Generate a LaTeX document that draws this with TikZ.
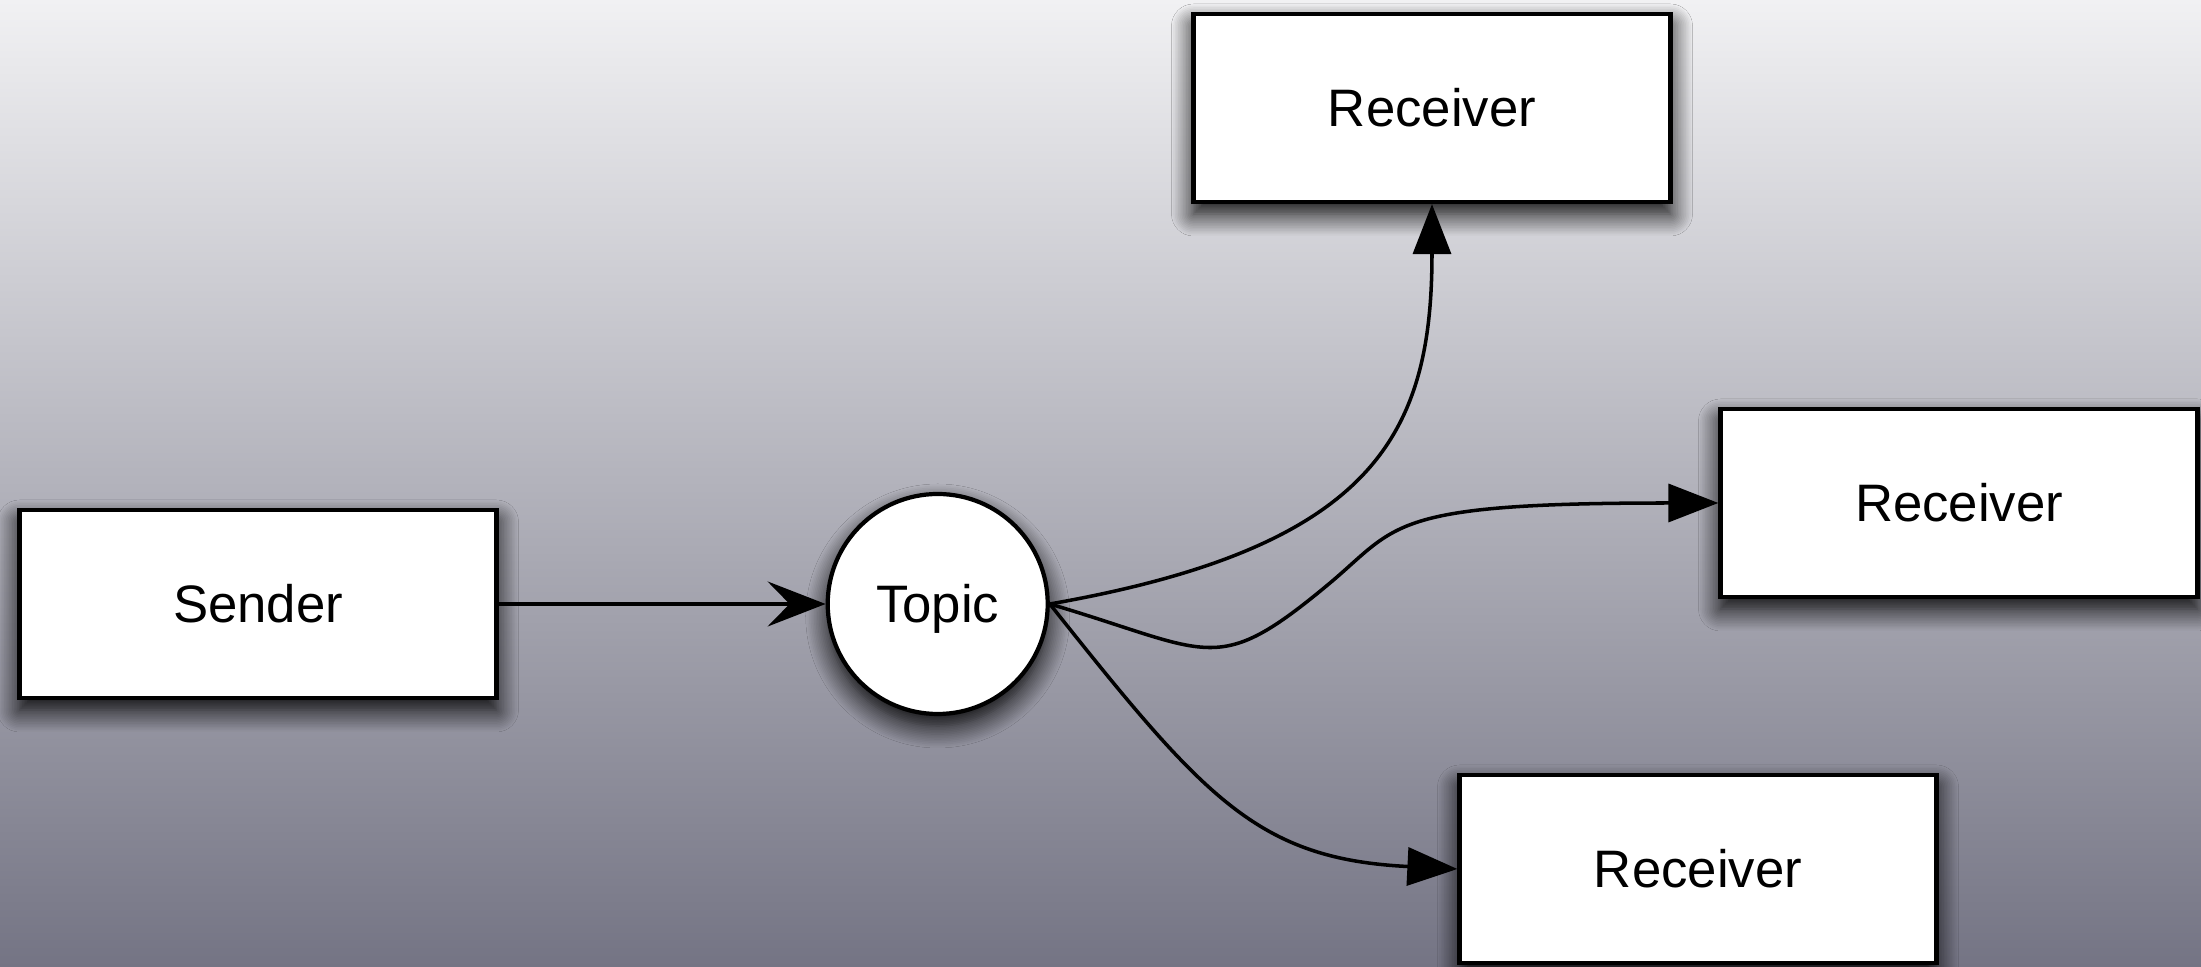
\documentclass[tikz,border=0pt]{standalone}
\usepackage{fontspec}
\setsansfont{Liberation Sans}
\usetikzlibrary{arrows.meta, positioning, shadows.blur}

\definecolor{skytop}{RGB}{241,241,243}
\definecolor{skybottom}{RGB}{116,116,132}

\begin{document}
\begin{tikzpicture}[
  font=\fontsize{15}{18}\selectfont\sffamily,
  peer/.style={draw, line width=1.2pt, fill=white, inner sep=0pt, minimum width=4.77cm, minimum height=1.88cm,
    text height=10.7pt, text depth=0pt,
    blur shadow={shadow xshift=0pt, shadow yshift=-0.12cm, shadow blur radius=0.22cm, shadow blur steps=14, shadow opacity=100}},
  hub/.style={circle, draw, line width=1.2pt, fill=white, inner sep=0pt, minimum size=2.2cm,
    text height=10.7pt, text depth=0pt,
    blur shadow={shadow xshift=0pt, shadow yshift=-0.12cm, shadow blur radius=0.22cm, shadow blur steps=14, shadow opacity=100}},
  feed/.style={line width=1pt, -{Triangle[length=5mm, width=3.8mm]}}
]
  \useasboundingbox (0,0) rectangle (22.01,9.67);
  \shade[top color=skytop, bottom color=skybottom] (0,0) rectangle (22.01,9.67);

  \node[peer] (sender) at (2.58,3.63) {Sender};
  \node[hub, right=3.27cm of sender] (topic) {Topic};
  \node[peer] (rcvA) at (14.32,8.59) {Receiver};
  \node[peer] (rcvB) at (19.59,4.64) {Receiver};
  \node[peer] (rcvC) at (16.98,0.98) {Receiver};

  \draw[line width=1pt, -{Stealth[length=5.8mm, width=4.5mm, inset=2.2mm]}] (sender) -- (topic);
  \draw[feed] (topic.east) .. controls +(3.25,0.57) and +(0,-2.3) .. (rcvA.south);
  \draw[feed] (topic.east) .. controls +(1.63,-0.48) and +(-1.15,-0.96) .. (13.3,3.84)
                           .. controls +(0.69,0.58) and +(-3.3,0) .. (rcvB.west);
  \draw[feed] (topic.east) .. controls +(1.55,-1.95) and +(-2.0,0.1) .. (rcvC.west);
\end{tikzpicture}
\end{document}
